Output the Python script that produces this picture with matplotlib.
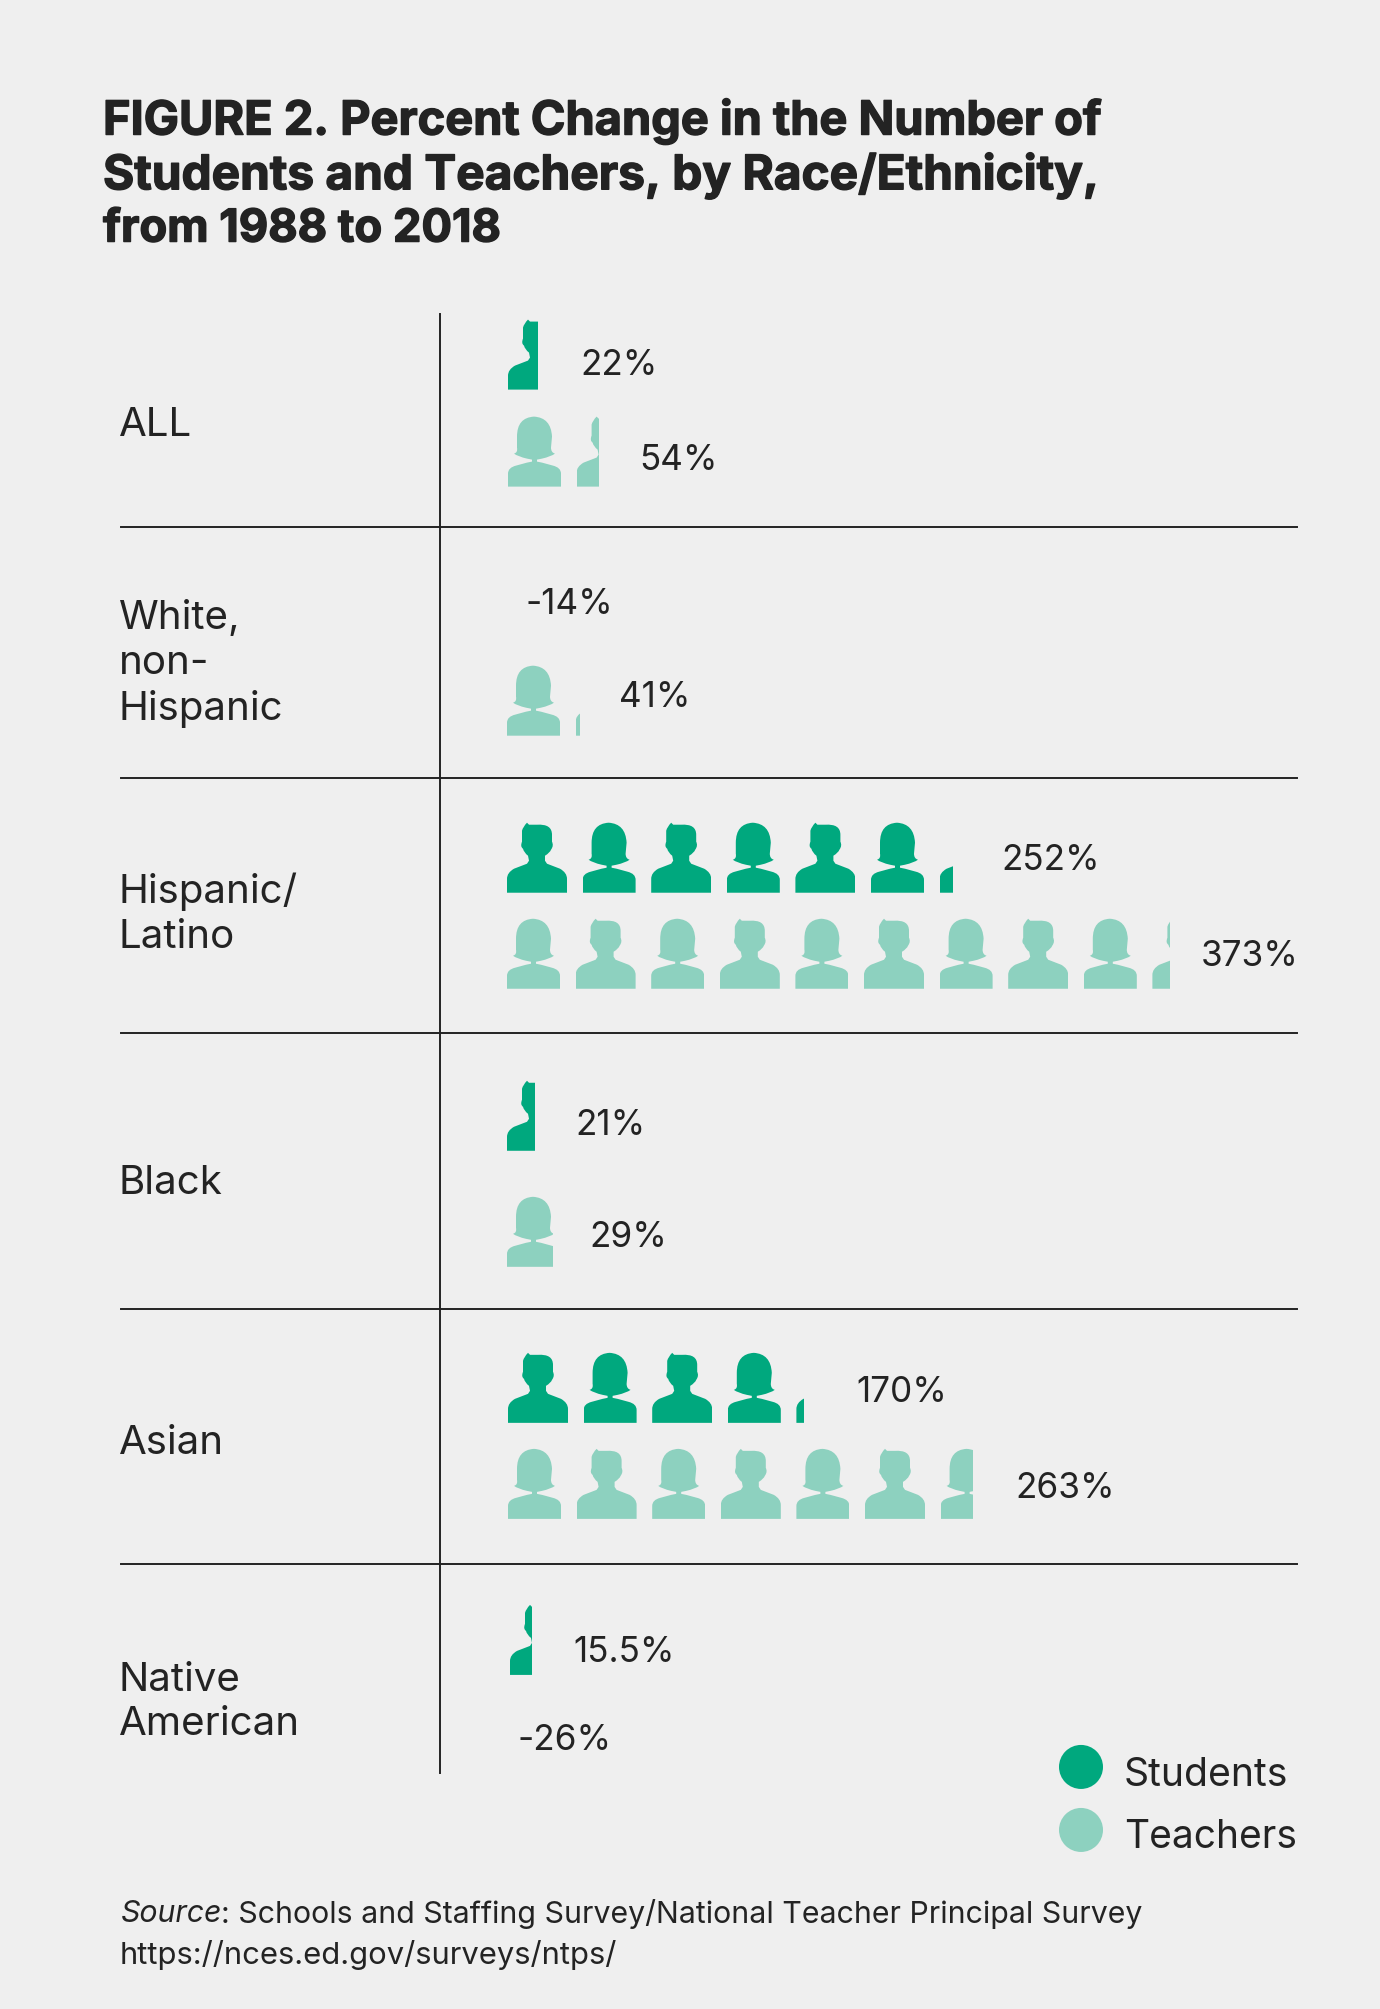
import matplotlib
matplotlib.use('Agg')
from matplotlib import pyplot as plt
from matplotlib import patheffects
from matplotlib.patches import Circle, PathPatch, Rectangle
from matplotlib.path import Path
from matplotlib.transforms import Affine2D

plt.rcParams['font.family'] = ['Inter', 'DejaVu Sans']

grupos = ['ALL', 'White,\nnon-\nHispanic', 'Hispanic/\nLatino', 'Black', 'Asian', 'Native\nAmerican']
etiquetas_students = ['22%', '-14%', '252%', '21%', '170%', '15.5%']
etiquetas_teachers = ['54%', '41%', '373%', '29%', '263%', '-26%']

# how many icons each row shows (0 when the change is negative)
iconos_students = [0.50, 0, 6.23, 0.47, 4.12, 0.37]
iconos_teachers = [1.38, 1.07, 9.30, 0.87, 6.62, 0]

verde = '#00A87E'
verde_claro = '#8DD1BF'
fondo = '#EFEFEF'
tinta = '#232323'

# layout in pixels of the reference
top_students = [320, 0, 823, 1081, 1353, 1605]
top_teachers = [417, 666, 919, 1197, 1449, 0]
x_iconos = [508, 507, 507, 507, 508, 510]
y_grupos = [425, 664, 914, 1183, 1443, 1702]
x_students = [580, 526, 1001, 575, 856, 573]
y_students = [365, 604, 860, 1125, 1392, 1652]
x_teachers = [639, 619, 1201, 589, 1015, 518]
y_teachers = [460, 697, 956, 1237, 1488, 1740]
y_separadores = [527, 778, 1033, 1309, 1564]


def hacer_path(inicio, tramos):
    # a tramo with one point is a line, with two points is a curve (control, end)
    verts = [inicio]
    codes = [Path.MOVETO]
    for t in tramos:
        if len(t) == 1:
            verts.append(t[0])
            codes.append(Path.LINETO)
        else:
            verts.extend(t)
            codes.extend([Path.CURVE3, Path.CURVE3])
    verts.append(inicio)
    codes.append(Path.CLOSEPOLY)
    return Path(verts, codes)


hombre = hacer_path((0, 70), [
    [(0, 56)], [(0, 50), (7, 46)], [(20, 41)], [(22, 38)], [(21, 33)],
    [(17, 30), (16, 26)], [(13, 24), (15, 19)], [(15, 8)], [(16, 4), (20, 0)],
    [(22, 2)], [(30, 2)], [(45, 1), (45, 12)], [(45, 19)], [(47, 23), (44, 27)],
    [(43, 30), (38, 33)], [(38, 38)], [(40, 41)], [(53, 46)], [(60, 50), (60, 56)],
    [(60, 70)]])

mujer = hacer_path((0, 70), [
    [(0, 57)], [(0, 51), (8, 49)], [(19, 46)], [(24, 45)], [(24, 43)], [(19, 42)],
    [(10, 40), (6, 37)], [(10, 36), (9, 31)], [(9, 20)], [(9, 1), (26, 0)],
    [(43, 1), (44, 20)], [(43, 31)], [(43, 36), (47, 37)], [(43, 40), (34, 42)],
    [(29, 43)], [(29, 45)], [(34, 46)], [(45, 49)], [(53, 51), (53, 57)],
    [(53, 70)]])

anchos = {'hombre': 60, 'mujer': 53}
formas = {'hombre': hombre, 'mujer': mujer}


def fila_iconos(ax, x0, y0, cantidad, primero, color):
    # icons alternate man/woman, the last one gets cut by a clip box
    orden = [primero, 'mujer' if primero == 'hombre' else 'hombre']
    x = x0
    i = 0
    while i < cantidad:
        nombre = orden[i % 2]
        ancho = anchos[nombre]
        trans = Affine2D().translate(x, y0) + ax.transData
        parche = PathPatch(formas[nombre], facecolor=color, edgecolor='none', transform=trans)
        ax.add_patch(parche)
        visible = min(cantidad - i, 1) * ancho
        parche.set_clip_path(Rectangle((x, y0 - 2), visible, 74, transform=ax.transData))
        x += ancho + 15.6
        i += 1


fig = plt.figure(figsize=(13.8, 20.095), dpi=100, facecolor=fondo)
ax = fig.add_axes([0, 0, 1, 1])
ax.set_xlim(0, 1380)
ax.set_ylim(2009, 0)
ax.axis('off')

titulo = ['FIGURE 2. Percent Change in the Number of',
          'Students and Teachers, by Race/Ethnicity,',
          'from 1988 to 2018']
# each line gets its own size so it ends where the reference line ends
tamanos = [33.8, 34.4, 32.6]
for y, linea, tam in zip([122, 176, 230], titulo, tamanos):
    t = ax.text(103, y, linea, fontsize=tam, fontweight='bold', color=tinta, va='center')
    t.set_path_effects([patheffects.withStroke(linewidth=1.0, foreground=tinta)])

ax.plot([439.5, 439.5], [314, 1773], color=tinta, lw=1.4)
for y in y_separadores:
    ax.plot([121, 1297], [y, y], color=tinta, lw=1.4)

for i in range(len(grupos)):
    ax.text(119, y_grupos[i], grupos[i], fontsize=29, color=tinta, va='center', linespacing=1.27)
    ax.text(x_students[i], y_students[i], etiquetas_students[i], fontsize=25.3, color=tinta, va='center')
    ax.text(x_teachers[i], y_teachers[i], etiquetas_teachers[i], fontsize=25.3, color=tinta, va='center')
    fila_iconos(ax, x_iconos[i], top_students[i], iconos_students[i], 'hombre', verde)
    fila_iconos(ax, x_iconos[i], top_teachers[i], iconos_teachers[i], 'mujer', verde_claro)

ax.add_patch(Circle((1081, 1767), 22, color=verde, lw=0))
ax.add_patch(Circle((1081, 1830), 22, color=verde_claro, lw=0))
ax.text(1124, 1775, 'Students', fontsize=28.2, color=tinta, va='center')
ax.text(1124, 1837, 'Teachers', fontsize=28, color=tinta, va='center')

fuente = ax.text(120, 1914, 'Source', fontsize=21.8, color=tinta, va='center', style='italic')
ax.annotate(': Schools and Staffing Survey/National Teacher Principal Survey', xy=(1, 0.5),
            xycoords=fuente, fontsize=21.8, color=tinta, va='center')
ax.text(120, 1955, 'https://nces.ed.gov/surveys/ntps/', fontsize=22.3, color=tinta, va='center')

fig.savefig('out.png', dpi=100, facecolor=fondo)
